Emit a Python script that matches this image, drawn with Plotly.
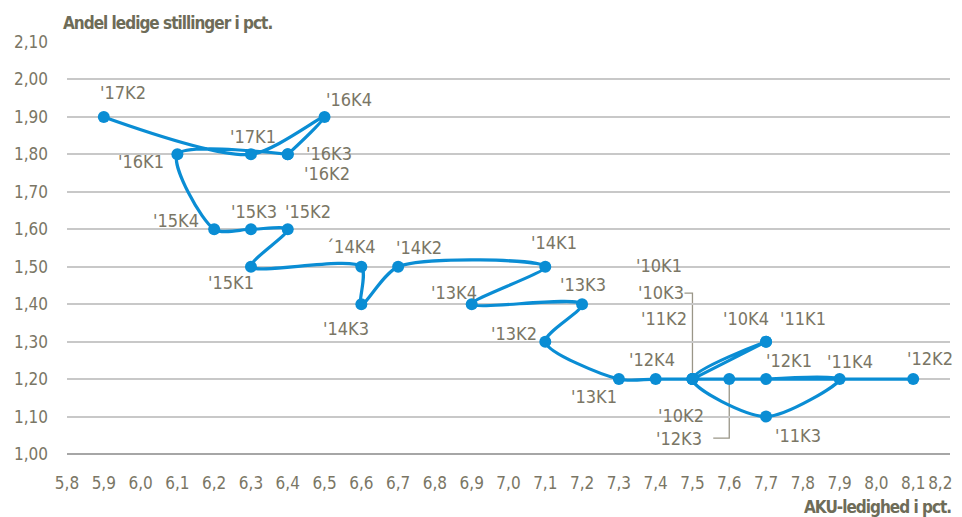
import plotly.graph_objects as go

quarters = ["'10K1", "'10K2", "'10K3", "'10K4", "'11K1", "'11K2", "'11K3", "'11K4",
            "'12K1", "'12K2", "'12K3", "'12K4", "'13K1", "'13K2", "'13K3", "'13K4",
            "'14K1", "'14K2", "'14K3", "´14K4", "'15K1", "'15K2", "'15K3", "'15K4",
            "'16K1", "'16K2", "'16K3", "'16K4", "'17K1", "'17K2"]
unemployment = [7.5, 7.5, 7.5, 7.7, 7.7, 7.5, 7.7, 7.9,
                7.7, 8.1, 7.6, 7.4, 7.3, 7.1, 7.2, 6.9,
                7.1, 6.7, 6.6, 6.6, 6.3, 6.4, 6.3, 6.2,
                6.1, 6.4, 6.4, 6.5, 6.3, 5.9]
vacancies = [1.2, 1.2, 1.2, 1.3, 1.3, 1.2, 1.1, 1.2,
             1.2, 1.2, 1.2, 1.2, 1.2, 1.3, 1.4, 1.4,
             1.5, 1.5, 1.4, 1.5, 1.5, 1.6, 1.6, 1.6,
             1.8, 1.8, 1.8, 1.9, 1.8, 1.9]

x_tickvals = [5.8, 5.9, 6.0, 6.1, 6.2, 6.3, 6.4, 6.5, 6.6, 6.7, 6.8, 6.9, 7.0,
              7.1, 7.2, 7.3, 7.4, 7.5, 7.6, 7.7, 7.8, 7.9, 8.0, 8.1, 8.2]
x_ticktext = ["5,8", "5,9", "6,0", "6,1", "6,2", "6,3", "6,4", "6,5", "6,6", "6,7", "6,8",
              "6,9", "7,0", "7,1", "7,2", "7,3", "7,4", "7,5", "7,6", "7,7", "7,8", "7,9",
              "8,0", "8,1", "8,2\u00a0\u00a0\u00a0\u00a0"]

# label pixel offsets (dx, dy up)
label_offsets = {
    "'10K1": (-33, 114), "'10K2": (-11, -36), "'10K3": (-31, 87), "'10K4": (-20, 23),
    "'11K1": (37, 23), "'11K2": (-28, 61), "'11K3": (32, -19), "'11K4": (10, 18),
    "'12K1": (23, 19), "'12K2": (17, 21), "'12K3": (-50, -59), "'12K4": (-4, 20),
    "'13K1": (-25, -17), "'13K2": (-31, 8), "'13K3": (1, 20), "'13K4": (-18, 12),
    "'14K1": (9, 24), "'14K2": (21, 19), "'14K3": (-15, -24), "´14K4": (-10, 20),
    "'15K1": (-20, -16), "'15K2": (20, 18), "'15K3": (3, 18), "'15K4": (-38, 9),
    "'16K1": (-36, -7), "'16K2": (39, -19), "'16K3": (41, 1), "'16K4": (24, 17),
    "'17K1": (2, 18), "'17K2": (19, 24),
}

blue = "#0A8DD4"
txt = "#7A7665"
title_col = "#6E6C58"
font_family = "DejaVu Sans Condensed, sans-serif"

fig = go.Figure()
fig.add_trace(go.Scatter(
    x=unemployment, y=vacancies, mode="lines+markers",
    line=dict(color=blue, width=3.2, shape="spline", smoothing=0.8),
    marker=dict(color=blue, size=12),
    hoverinfo="skip", showlegend=False,
))

annotations = []
for q, xv, yv in zip(quarters, unemployment, vacancies):
    dx, dy = label_offsets[q]
    annotations.append(dict(x=xv, y=yv, xref="x", yref="y", text=q, showarrow=False,
                            xshift=dx, yshift=dy,
                            font=dict(family=font_family, size=18, color=txt)))

annotations.append(dict(x=0, y=1, xref="paper", yref="paper", xanchor="left", yanchor="bottom",
                        xshift=-6, yshift=7,
                        text="<span style='letter-spacing:-1px'><b>Andel ledige stillinger i pct.</b></span>",
                        showarrow=False,
                        font=dict(family=font_family, size=17, color=title_col)))
annotations.append(dict(x=1, y=0, xref="paper", yref="paper", xanchor="right", yanchor="top",
                        xshift=3, yshift=-41,
                        text="<span style='letter-spacing:-1px'><b>AKU-ledighed i pct.</b></span>",
                        showarrow=False,
                        font=dict(family=font_family, size=17, color=title_col)))

# leader lines for '10K3 and '12K3
i10 = quarters.index("'10K3")
i12 = quarters.index("'12K3")
shapes = [
    dict(type="path", xref="x", yref="y", xsizemode="pixel", ysizemode="pixel",
         xanchor=unemployment[i10], yanchor=vacancies[i10],
         path="M 0 0 L 0 86 L -8 86", line=dict(color="#9A9688", width=1.3), layer="below"),
    dict(type="path", xref="x", yref="y", xsizemode="pixel", ysizemode="pixel",
         xanchor=unemployment[i12], yanchor=vacancies[i12],
         path="M 0 -6 L 0 -59 L -16 -59", line=dict(color="#9A9688", width=1.3), layer="below"),
    dict(type="line", xref="paper", yref="paper", x0=0, x1=1, y0=0, y1=0,
         line=dict(color="#A6A6A6", width=2), layer="below"),
]

# the page body has an 8px margin; size the figure so the plot lands where the reference has it
fig.update_layout(
    width=946, height=509,
    margin=dict(l=59, r=4, t=34, b=63, autoexpand=False),
    paper_bgcolor="white", plot_bgcolor="white",
    annotations=annotations, shapes=shapes,
    font=dict(family=font_family, color=txt, size=17),
    separators=", ",
    xaxis=dict(range=[5.8, 8.2], tickvals=x_tickvals, ticktext=x_ticktext, showgrid=False,
               zeroline=False, showline=False, ticks="", ticklabelstandoff=17,
               automargin=False, ticklabeloverflow="allow",
               tickfont=dict(family=font_family, size=17, color=txt)),
    yaxis=dict(range=[1.0, 2.1], dtick=0.1, tick0=1.0, tickformat=".2f", showgrid=True,
               gridcolor="#C8C8C8", gridwidth=2, zeroline=False, showline=False, ticks="",
               ticklabelstandoff=18, automargin=False, ticklabeloverflow="allow",
               tickfont=dict(family=font_family, size=17, color=txt)),
)

fig.write_html("out.html")
